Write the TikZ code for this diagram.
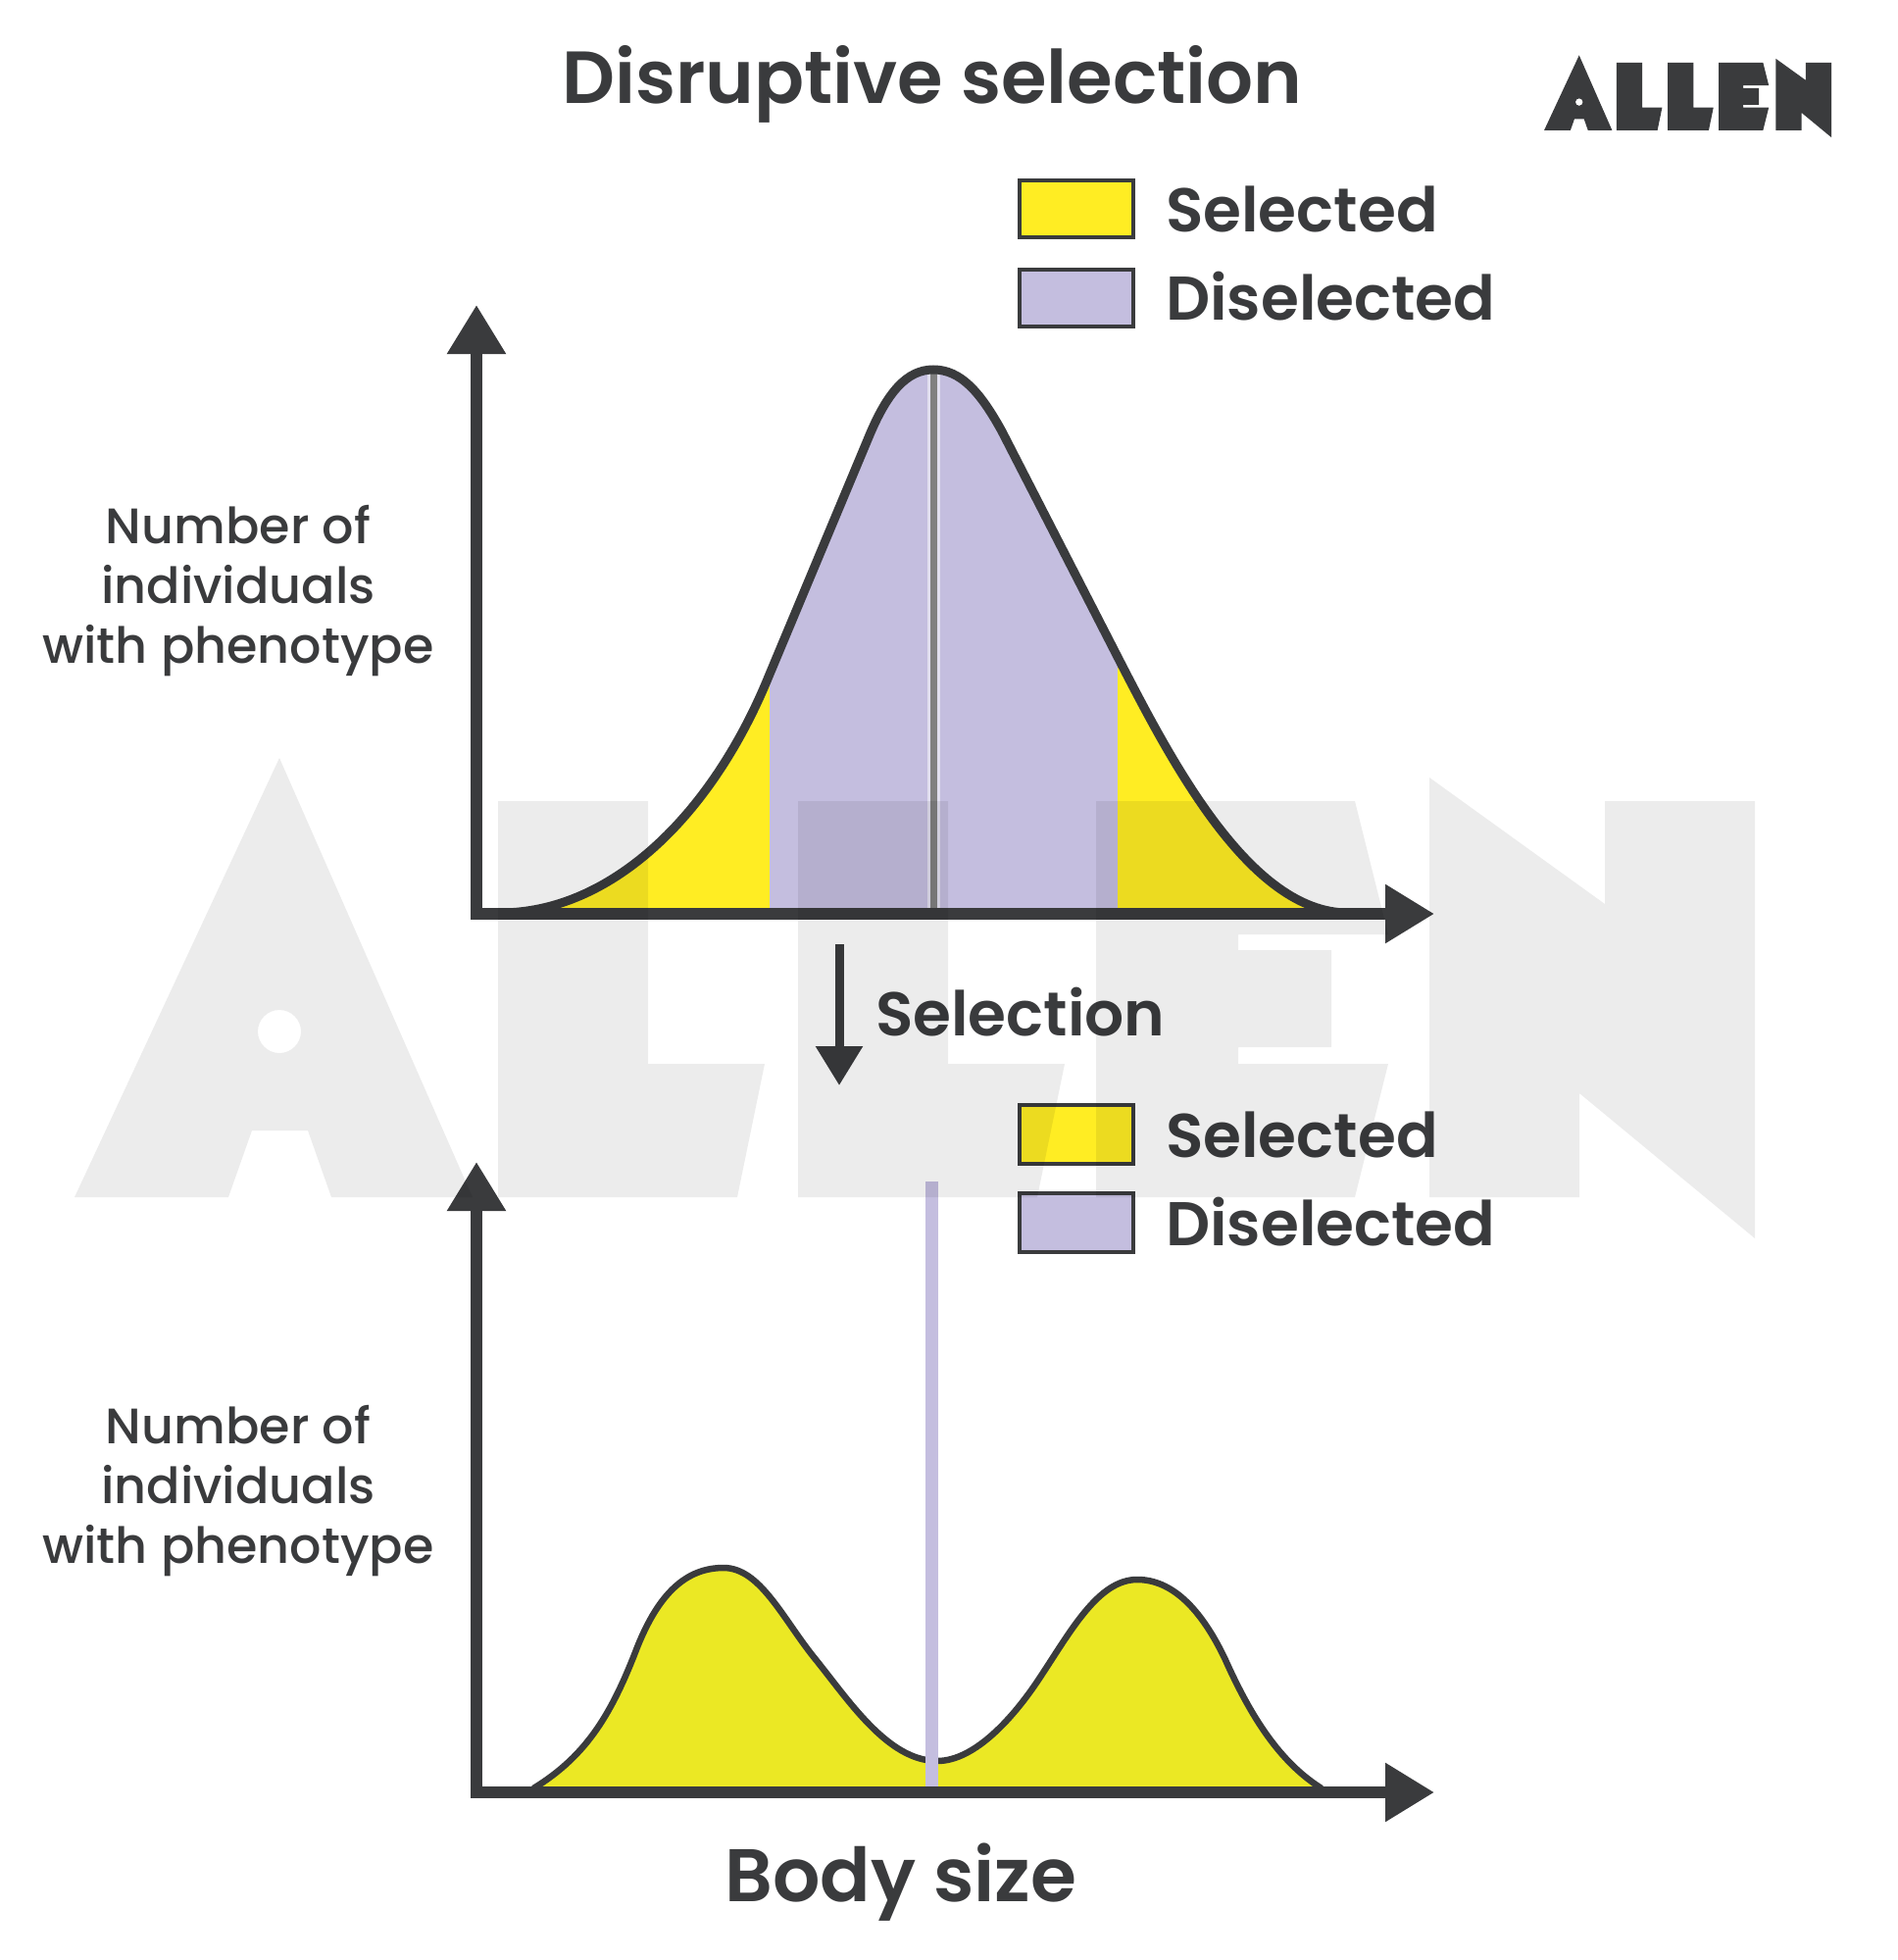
\documentclass[tikz,border=0pt]{standalone}
\usepackage{fontspec}
\setmainfont{Poppins}[BoldFont={Poppins SemiBold}]
\newfontfamily\medfont{Poppins Medium}
\usetikzlibrary{arrows.meta}
\definecolor{ink}{HTML}{3A3B3D}
\definecolor{ylw}{HTML}{FFED23}
\definecolor{ylwb}{HTML}{EBE824}
\definecolor{lil}{HTML}{C4BEDF}
\newcommand{\allenpath}{
  (76,1221) -- (285,773) -- (482,1221) -- (338,1221) -- (314,1153) -- (257,1153) -- (233,1221) -- cycle
  (285,1052) circle [radius=22]
  (508,817) -- (661,817) -- (661,1085) -- (780,1085) -- (752,1221) -- (508,1221) -- cycle
  (814,817) -- (967,817) -- (967,1085) -- (1086,1085) -- (1058,1221) -- (814,1221) -- cycle
  (1118,817) -- (1382,817) -- (1416,953) -- (1263,953) -- (1263,969) -- (1358,969) -- (1358,1068) -- (1263,1068) -- (1263,1085) -- (1416,1085) -- (1382,1221) -- (1118,1221) -- cycle
  (1458,793) -- (1637,922) -- (1637,817) -- (1790,817) -- (1790,1263) -- (1611,1115) -- (1611,1221) -- (1458,1221) -- cycle
}
\newcommand{\bellcurve}{(510,931) .. controls (622,931) and (725,834) .. (784,690) -- (886,446) .. controls (905,400) and (925,377) .. (952,377) .. controls (980,377) and (1000,400) .. (1022,440) -- (1140,670) .. controls (1195,777) and (1275,931) .. (1375,931)}
\newcommand{\twinpeaks}{(544,1824) .. controls (600,1790) and (625,1745) .. (650,1680) .. controls (672,1625) and (700,1599) .. (738,1599) .. controls (775,1599) and (798,1650) .. (830,1690) .. controls (865,1733) and (905,1796) .. (956,1796) .. controls (995,1796) and (1035,1750) .. (1060,1712) .. controls (1092,1664) and (1120,1611) .. (1160,1611) .. controls (1195,1611) and (1225,1640) .. (1250,1693) .. controls (1280,1760) and (1310,1800) .. (1348,1824)}
\tikzset{
  axis/.style={draw=ink,line width=12pt,line join=miter,{Triangle[length=50pt,width=57pt]}-{Triangle[length=50pt,width=57pt]}},
  legbox/.style={draw=ink,line width=4.5pt},
  lgd/.style={anchor=base west,inner sep=0pt,text=ink,font=\fontsize{63}{65}\selectfont\bfseries},
  ylabel/.style={anchor=base,inner sep=0pt,text=ink,font=\medfont\fontsize{50.8}{52}\selectfont},
}
\begin{document}
\begin{tikzpicture}[x=1pt,y=-1pt]
\useasboundingbox (0,0) rectangle (1935,1999);
\fill[white] (0,0) rectangle (1935,1999);
% upper plot fills
\begin{scope}
  \clip \bellcurve -- cycle;
  \fill[ylw] (480,370) rectangle (1400,932);
  \fill[lil] (785,370) rectangle (1140,932);
  \fill[lil!50!white] (945.5,370) rectangle (958.5,932);
  \fill[black!50] (949,370) rectangle (955.5,932);
\end{scope}
\draw[ink,line width=9pt] \bellcurve;
% lower plot fills
\fill[ylwb] \twinpeaks -- cycle;
\draw[ink,line width=6.5pt] \twinpeaks;
\fill[lil] (944,1205) rectangle (957,1824);
% axes
\coordinate (ytipA) at (486,311);
\coordinate (cornerA) at (486,932);
\coordinate (xtipA) at (1463,932);
\draw[axis] (ytipA) -- (cornerA) -- (xtipA);
\coordinate (ytipB) at (486,1185);
\coordinate (cornerB) at (486,1828);
\coordinate (xtipB) at (1463,1828);
\draw[axis] (ytipB) -- (cornerB) -- (xtipB);
% selection arrow
\coordinate (selfrom) at (856,963);
\coordinate (selto) at (856,1107);
\draw[draw=ink,line width=9pt,-{Triangle[length=40pt,width=46pt]}] (selfrom) -- (selto);
% legends
\draw[legbox,fill=ylw] (1040,184) rectangle (1156,242);
\draw[legbox,fill=lil] (1040,275) rectangle (1156,333);
\draw[legbox,fill=ylw] (1040,1127) rectangle (1156,1187);
\draw[legbox,fill=lil] (1040,1217) rectangle (1156,1277);
% texts
\node[anchor=base,inner sep=0pt,text=ink,font=\fontsize{75.3}{78}\selectfont\bfseries] (title) at (951,106) {Disruptive selection};
\node[lgd] (s1) at (1189,236) {Selected};
\node[lgd] (d1) at (1189,326) {Diselected};
\node[lgd] (s2) at (1189,1180) {Selected};
\node[lgd] (d2) at (1189,1270) {Diselected};
\node[lgd] (sel) at (893,1056) {Selection};
\node[anchor=base,inner sep=0pt,text=ink,font=\fontsize{76}{78}\selectfont\bfseries] (body) at (919,1939) {Body size};
\node[ylabel] (a1) at (243,554) {Number of};
\node[ylabel] (a2) at (243,615) {individuals};
\node[ylabel] (a3) at (243,676) {with phenotype};
\node[ylabel] (b1) at (243,1472) {Number of};
\node[ylabel] (b2) at (243,1533) {individuals};
\node[ylabel] (b3) at (243,1594) {with phenotype};
% watermark
\fill[black,fill opacity=.075,even odd rule] \allenpath;
% logo
\begin{scope}[shift={(1562,-75.8)},scale=.171]
  \fill[ink,even odd rule] \allenpath;
\end{scope}
\end{tikzpicture}
\end{document}
